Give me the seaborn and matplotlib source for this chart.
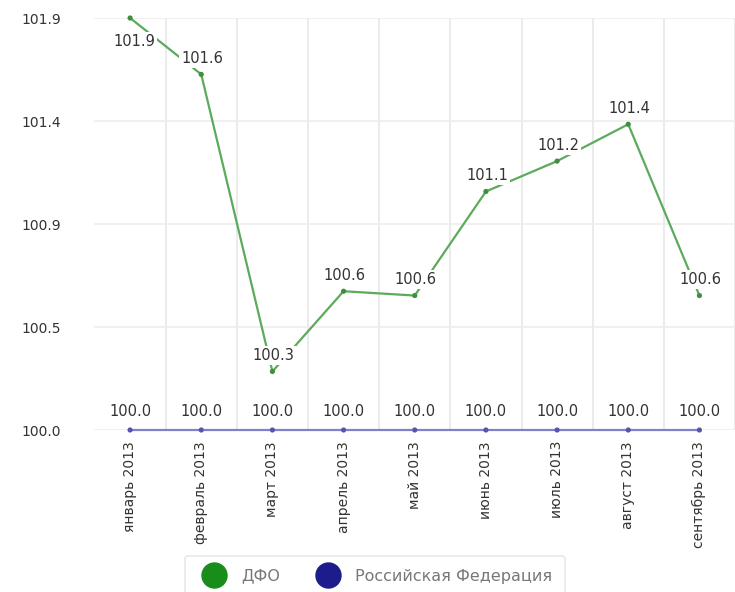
import matplotlib
matplotlib.use('Agg')
import matplotlib.pyplot as plt
from matplotlib.lines import Line2D
import numpy as np
import pandas as pd
import seaborn as sns

months = ['январь 2013', 'февраль 2013', 'март 2013', 'апрель 2013', 'май 2013',
          'июнь 2013', 'июль 2013', 'август 2013', 'сентябрь 2013']
dfo = [101.9, 101.64, 100.27, 100.64, 100.62, 101.1, 101.24, 101.41, 100.62]
rf = [100.0] * 9
y_ticks = [100.0, 100.475, 100.95, 101.425, 101.9]
y_labels = ['100.0', '100.5', '100.9', '101.4', '101.9']

GREEN_LINE = '#5cab5c'
GREEN_DOT = '#3f8f3f'
BLUE_LINE = '#8080cc'
BLUE_DOT = '#5555aa'

df = pd.DataFrame({
    'pos': list(range(len(months))) * 2,
    'value': dfo + rf,
    'region': ['ДФО'] * len(months) + ['Российская Федерация'] * len(months),
})

sns.set_style('white')
plt.rcParams['font.family'] = ['DejaVu Sans']

fig = plt.figure(figsize=(7.35, 5.92), dpi=100)
ax = fig.add_axes([94.5 / 735, 162 / 592, 640.5 / 735, 412 / 592])

sns.lineplot(data=df, x='pos', y='value', hue='region',
             palette={'ДФО': GREEN_LINE, 'Российская Федерация': BLUE_LINE},
             linewidth=1.6, legend=False, ax=ax, clip_on=False, zorder=3)
sns.scatterplot(data=df, x='pos', y='value', hue='region',
                palette={'ДФО': GREEN_DOT, 'Российская Федерация': BLUE_DOT},
                s=14, linewidth=0, legend=False, ax=ax, clip_on=False, zorder=4)

ax.set_xlim(-0.5, -0.5 + 640.5 / 71.5)
ax.set_ylim(100.0, 101.9)
ax.set_yticks(y_ticks)
ax.set_yticklabels(y_labels, fontsize=10, color='#333333')
ax.set_xticks(range(len(months)))
ax.set_xticklabels(months, rotation=90, fontsize=10, color='#333333')
ax.set_xticks(np.arange(0.5, len(months), 1.0), minor=True)
ax.tick_params(axis='both', which='both', length=0)
ax.tick_params(axis='y', pad=24)
ax.tick_params(axis='x', pad=8)
ax.set_xlabel('')
ax.set_ylabel('')
ax.grid(axis='y', which='major', color='#eeeeee', linewidth=1.2)
ax.grid(axis='x', which='minor', color='#e8e8e8', linewidth=1.2)
ax.grid(axis='x', which='major', visible=False)
for s in ax.spines.values():
    s.set_visible(False)

box = dict(facecolor='white', edgecolor='none', pad=1.5)
for i, v in enumerate(dfo):
    dy = -24 if i == 0 else 16
    ax.annotate(f'{v:.1f}', (i, v), xytext=(4 if i == 0 else 1, dy), textcoords='offset pixels',
                ha='center', va='center', fontsize=10.5, color='#333333', bbox=box, zorder=5)
for i, v in enumerate(rf):
    ax.annotate(f'{v:.1f}', (i, v), xytext=(0, 18), textcoords='offset pixels',
                ha='center', va='center', fontsize=10.5, color='#333333', zorder=5)

handles = [Line2D([], [], marker='o', linestyle='', markersize=18, color='#1a8c1a'),
           Line2D([], [], marker='o', linestyle='', markersize=18, color='#1c1c8c')]
leg = fig.legend(handles, ['ДФО', 'Российская Федерация'], loc='center',
                 bbox_to_anchor=(375 / 735, 16 / 592), ncol=2, frameon=True,
                 fancybox=True, fontsize=11.5, handletextpad=0.7, columnspacing=2.0,
                 borderpad=0.8, borderaxespad=0, labelcolor='#777777')
leg.get_frame().set_edgecolor('#e3e3e3')
leg.get_frame().set_linewidth(1.2)

fig.savefig('out.png', dpi=100)
